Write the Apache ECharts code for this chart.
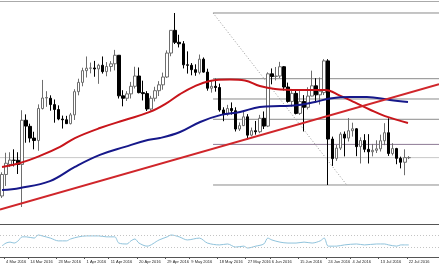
<!DOCTYPE html>
<html><head><meta charset="utf-8">
<script src="https://cdn.jsdelivr.net/npm/echarts@6/dist/echarts.min.js"></script>
<style>html,body{margin:0;padding:0;background:#fff}#c{width:439px;height:268px}</style>
</head><body><div id="c"></div>
<script>
// EUR/USD daily, 3 Mar 2016 - 22 Jul 2016
const dates = ['3 Mar 2016','4 Mar 2016','7 Mar 2016','8 Mar 2016','9 Mar 2016','10 Mar 2016','11 Mar 2016','14 Mar 2016','15 Mar 2016','16 Mar 2016','17 Mar 2016','18 Mar 2016','21 Mar 2016','22 Mar 2016','23 Mar 2016','24 Mar 2016','25 Mar 2016','28 Mar 2016','29 Mar 2016','30 Mar 2016','31 Mar 2016',
'1 Apr 2016','4 Apr 2016','5 Apr 2016','6 Apr 2016','7 Apr 2016','8 Apr 2016','11 Apr 2016','12 Apr 2016','13 Apr 2016','14 Apr 2016','15 Apr 2016','18 Apr 2016','19 Apr 2016','20 Apr 2016','21 Apr 2016','22 Apr 2016','25 Apr 2016','26 Apr 2016','27 Apr 2016','28 Apr 2016','29 Apr 2016',
'2 May 2016','3 May 2016','4 May 2016','5 May 2016','6 May 2016','9 May 2016','10 May 2016','11 May 2016','12 May 2016','13 May 2016','16 May 2016','17 May 2016','18 May 2016','19 May 2016','20 May 2016','23 May 2016','24 May 2016','25 May 2016','26 May 2016','27 May 2016','30 May 2016','31 May 2016',
'1 Jun 2016','2 Jun 2016','3 Jun 2016','6 Jun 2016','7 Jun 2016','8 Jun 2016','9 Jun 2016','10 Jun 2016','13 Jun 2016','14 Jun 2016','15 Jun 2016','16 Jun 2016','17 Jun 2016','20 Jun 2016','21 Jun 2016','22 Jun 2016','23 Jun 2016','24 Jun 2016','27 Jun 2016','28 Jun 2016','29 Jun 2016','30 Jun 2016',
'1 Jul 2016','4 Jul 2016','5 Jul 2016','6 Jul 2016','7 Jul 2016','8 Jul 2016','11 Jul 2016','12 Jul 2016','13 Jul 2016','14 Jul 2016','15 Jul 2016','18 Jul 2016','19 Jul 2016','20 Jul 2016','21 Jul 2016','22 Jul 2016'];

const tickLabels = ['4 Mar 2016','14 Mar 2016','23 Mar 2016','1 Apr 2016','11 Apr 2016','20 Apr 2016','29 Apr 2016','9 May 2016','18 May 2016','27 May 2016','6 Jun 2016','15 Jun 2016','24 Jun 2016','4 Jul 2016','13 Jul 2016','22 Jul 2016'];

// [open, high, low, close]
const candles = [
[1.0867,1.0964,1.0859,1.0955],[1.0955,1.1044,1.0908,1.1001],[1.0996,1.1046,1.0986,1.1014],[1.1013,1.1058,1.0988,1.1013],[1.1013,1.1046,1.0957,1.0996],
[1.0996,1.1218,1.0822,1.1177],[1.1177,1.1201,1.1085,1.1153],[1.1152,1.1163,1.1086,1.1104],[1.1104,1.1130,1.1058,1.1094],[1.1094,1.1242,1.1052,1.1225],
[1.1225,1.1342,1.1221,1.1268],[1.1268,1.1296,1.1232,1.1270],[1.1267,1.1279,1.1216,1.1241],[1.1241,1.1262,1.1167,1.1221],[1.1221,1.1238,1.1177,1.1182],
[1.1182,1.1196,1.1143,1.1179],[1.1179,1.1195,1.1162,1.1163],[1.1163,1.1207,1.1160,1.1199],[1.1199,1.1304,1.1178,1.1294],[1.1294,1.1347,1.1279,1.1332],
[1.1332,1.1392,1.1316,1.1380],[1.1380,1.1438,1.1352,1.1390],[1.1390,1.1413,1.1369,1.1391],[1.1391,1.1420,1.1355,1.1387],[1.1387,1.1408,1.1326,1.1402],
[1.1402,1.1438,1.1368,1.1376],[1.1376,1.1415,1.1357,1.1397],[1.1397,1.1419,1.1376,1.1408],[1.1408,1.1465,1.1381,1.1443],[1.1443,1.1444,1.1266,1.1277],
[1.1277,1.1300,1.1234,1.1267],[1.1267,1.1296,1.1256,1.1285],[1.1285,1.1334,1.1266,1.1316],[1.1316,1.1396,1.1307,1.1358],[1.1358,1.1393,1.1287,1.1290],
[1.1290,1.1339,1.1258,1.1286],[1.1286,1.1296,1.1215,1.1223],[1.1223,1.1277,1.1216,1.1267],[1.1267,1.1314,1.1254,1.1298],[1.1298,1.1337,1.1276,1.1322],
[1.1322,1.1372,1.1302,1.1354],[1.1354,1.1463,1.1350,1.1452],[1.1452,1.1545,1.1439,1.1545],[1.1545,1.1616,1.1489,1.1496],[1.1496,1.1527,1.1475,1.1490],
[1.1490,1.1501,1.1389,1.1404],[1.1404,1.1459,1.1368,1.1402],[1.1402,1.1411,1.1361,1.1384],[1.1384,1.1406,1.1359,1.1373],[1.1373,1.1446,1.1365,1.1427],
[1.1427,1.1434,1.1372,1.1374],[1.1374,1.1388,1.1298,1.1308],[1.1308,1.1337,1.1290,1.1316],[1.1316,1.1347,1.1294,1.1311],[1.1311,1.1327,1.1212,1.1219],
[1.1219,1.1230,1.1173,1.1202],[1.1202,1.1240,1.1195,1.1225],[1.1225,1.1250,1.1200,1.1216],[1.1216,1.1230,1.1131,1.1141],[1.1141,1.1168,1.1133,1.1155],
[1.1155,1.1217,1.1153,1.1191],[1.1191,1.1202,1.1098,1.1116],[1.1116,1.1147,1.1111,1.1134],[1.1134,1.1174,1.1118,1.1130],[1.1130,1.1199,1.1124,1.1185],
[1.1185,1.1213,1.1141,1.1153],[1.1153,1.1373,1.1149,1.1367],[1.1367,1.1389,1.1324,1.1356],[1.1356,1.1395,1.1340,1.1358],[1.1358,1.1416,1.1350,1.1396],
[1.1396,1.1399,1.1299,1.1313],[1.1313,1.1331,1.1249,1.1254],[1.1254,1.1298,1.1233,1.1287],[1.1287,1.1298,1.1201,1.1205],[1.1205,1.1297,1.1199,1.1254],
[1.1254,1.1280,1.1131,1.1230],[1.1230,1.1312,1.1221,1.1276],[1.1276,1.1380,1.1275,1.1318],[1.1318,1.1349,1.1250,1.1281],[1.1281,1.1352,1.1241,1.1296],
[1.1290,1.1427,1.1280,1.1420],[1.1420,1.1427,1.0912,1.1100],[1.1100,1.1110,1.0990,1.1020],[1.1021,1.1076,1.1011,1.1063],[1.1063,1.1128,1.1055,1.1120],
[1.1120,1.1131,1.1029,1.1104],[1.1104,1.1186,1.1090,1.1134],[1.1134,1.1167,1.1110,1.1142],[1.1142,1.1145,1.1030,1.1069],[1.1069,1.1107,1.1000,1.1094],
[1.1094,1.1120,1.1046,1.1058],[1.1058,1.1120,1.1000,1.1048],[1.1048,1.1080,1.1029,1.1054],[1.1054,1.1095,1.1043,1.1060],[1.1060,1.1118,1.1049,1.1093],
[1.1093,1.1165,1.1075,1.1126],[1.1126,1.1185,1.1031,1.1041],[1.1041,1.1083,1.1033,1.1061],[1.1061,1.1064,1.0997,1.1021],[1.1021,1.1028,1.0980,1.1005],
[1.1005,1.1058,1.0952,1.1024],[1.1024,1.1030,1.1018,1.1024]];

// moving averages, read at sample bars: [bar index, price]
const maFast = [[0,1.0986],[4.5,1.1002],[9.4,1.1031],[14.4,1.1068],[18.1,1.1104],[24.3,1.1145],[30.5,1.1178],[36.7,1.1211],[40.5,1.1243],[44.2,1.1284],[47.9,1.1317],[51.6,1.1338],[56.6,1.1344],[60.3,1.1340],[64,1.1317],[67.8,1.1305],[74,1.1301],[80.2,1.1301],[83.9,1.1278],[87.6,1.1250],[91.4,1.1220],[95.1,1.1194],[100.8,1.1166]];
const maSlow = [[0,1.0891],[4.5,1.0900],[11.9,1.0928],[18.1,1.0986],[24.3,1.1035],[30.5,1.1068],[36.2,1.1096],[39.2,1.1104],[44.2,1.1129],[49.2,1.1170],[54.4,1.1199],[59.1,1.1211],[64,1.1231],[69,1.1235],[72.5,1.1237],[77.7,1.1252],[81.4,1.1266],[86.4,1.1272],[90.6,1.1272],[96.3,1.1260],[100.8,1.1252]];

// trend line endpoints [bar index, price]
const trendLine = [[-0.5,1.0812],[108.5,1.1325]];
// Fibonacci retracement: anchors and levels
const fibHigh = [52.4, 1.1616];
const fibLow = [85.6, 1.0912];
const fibRatios = [0, 0.382, 0.5, 0.618, 0.764, 1];
const bidPrice = 1.1024;

// RSI samples [bar index, value]
const rsi = [[0,36],[1,45],[2,48],[3,45],[4,52],[5,65],[6,65],[8,61],[9,71],[10,68],[12,61],[14,52],[16,52],[17,58],[19,65],[21,68],[24,68],[26,65],[28,65],[29,45],[31,42],[32,52],[33,58],[34,45],[36,35],[39,55],[41,65],[42,71],[44,65],[46,55],[49,61],[51,45],[54,39],[56,42],[58,32],[60,35],[61,29],[63,35],[65,42],[66,61],[67,55],[69,48],[71,45],[73,45],[75,48],[77,45],[79,52],[80,61],[81,35],[83,35],[85,39],[88,42],[90,39],[93,42],[95,42],[96,39],[98,35],[99,39],[101,39]];
const rsiLevels = [30, 70];

// layout
const padBars = 7;
const cats = dates.concat(Array.from({length: padBars}, (_, k) => ' '.repeat(k + 1)));
const xMax = cats.length - 0.5;

const kData = candles.map(c => [c[0], c[3], c[2], c[1]]);
const fibSeries = fibRatios.map(r => {
  const p = fibHigh[1] - r * (fibHigh[1] - fibLow[1]);
  return {
    type: 'line', xAxisIndex: 1, yAxisIndex: 0, silent: true, symbol: 'none',
    lineStyle: {color: r === 0.764 ? '#8d7a95' : '#8a8a8a', width: 1},
    data: [[fibHigh[0], p], [xMax, p]], z: 1
  };
});

const chart = echarts.init(document.getElementById('c'), null, {renderer: 'canvas'});
chart.setOption({
  animation: false,
  backgroundColor: '#ffffff',
  grid: [
    {left: 0, right: 0, top: 1, height: 223},
    {left: 0, right: 0, top: 226, height: 31}
  ],
  xAxis: [
    {type: 'category', gridIndex: 0, data: cats, boundaryGap: true,
     axisLine: {show: true, lineStyle: {color: '#555', width: 1}}, axisTick: {show: false}, axisLabel: {show: false}, splitLine: {show: false}},
    {type: 'value', gridIndex: 0, min: -0.5, max: xMax, position: 'top',
     axisLine: {show: true, onZero: false, lineStyle: {color: '#aaa', width: 1}}, axisTick: {show: false}, axisLabel: {show: false}, splitLine: {show: false}},
    {type: 'category', gridIndex: 1, data: cats, boundaryGap: true,
     axisLine: {show: true, lineStyle: {color: '#555', width: 1}},
     axisTick: {show: true, length: 2, interval: (i, v) => tickLabels.includes(v), lineStyle: {color: '#555'}},
     axisLabel: {show: true, interval: (i, v) => tickLabels.includes(v), align: 'left', margin: 3, fontSize: 4, color: '#222', fontFamily: 'Liberation Sans, Arial, sans-serif'},
     splitLine: {show: false}},
    {type: 'value', gridIndex: 1, min: -0.5, max: xMax, show: false}
  ],
  yAxis: [
    {type: 'value', gridIndex: 0, min: 1.07523, max: 1.16651, show: false, scale: true},
    {type: 'value', gridIndex: 1, min: 0, max: 100, show: false}
  ],
  series: [
    ...fibSeries,
    {type: 'line', xAxisIndex: 1, yAxisIndex: 0, silent: true, symbol: 'none',
     lineStyle: {color: '#999', width: 1, type: [1, 2]}, data: [fibHigh, fibLow], z: 1},
    {type: 'line', xAxisIndex: 1, yAxisIndex: 0, silent: true, symbol: 'none',
     lineStyle: {color: '#c8c8c8', width: 1}, data: [[-0.5, bidPrice], [xMax, bidPrice]], z: 1},
    {type: 'candlestick', xAxisIndex: 0, yAxisIndex: 0, data: kData, barWidth: 3,
     itemStyle: {color: '#ffffff', color0: '#000000', borderColor: '#6e6e6e', borderColor0: '#000000', borderWidth: 1}, z: 3},
    {type: 'line', xAxisIndex: 1, yAxisIndex: 0, silent: true, symbol: 'none', smooth: 0.4,
     lineStyle: {color: '#c8151b', width: 2}, data: maFast, z: 4},
    {type: 'line', xAxisIndex: 1, yAxisIndex: 0, silent: true, symbol: 'none', smooth: 0.4,
     lineStyle: {color: '#16188a', width: 2}, data: maSlow, z: 4},
    {type: 'line', xAxisIndex: 1, yAxisIndex: 0, silent: true, symbol: 'none',
     lineStyle: {color: '#d0262b', width: 2}, data: trendLine, z: 4},
    {type: 'line', xAxisIndex: 3, yAxisIndex: 1, silent: true, symbol: 'none', smooth: 0.3,
     lineStyle: {color: '#8fc3dc', width: 1}, data: rsi,
     markLine: {silent: true, symbol: 'none', label: {show: false},
       lineStyle: {color: '#c4c4c4', type: [1, 2], width: 1},
       data: rsiLevels.map(v => ({yAxis: v}))}}
  ]
});
</script></body></html>
